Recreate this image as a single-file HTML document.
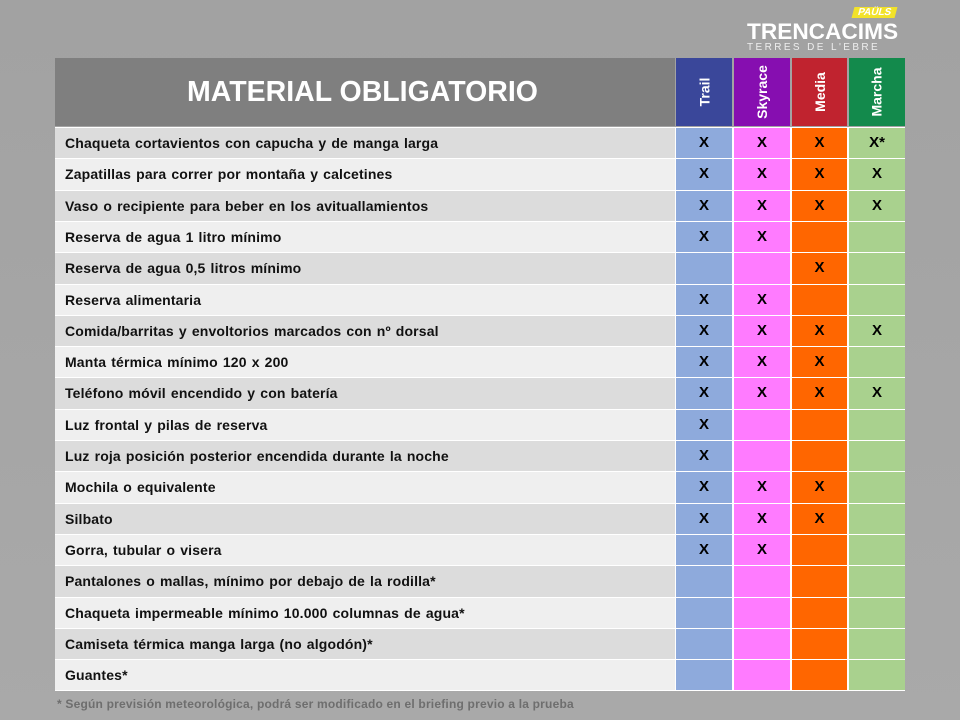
<!DOCTYPE html>
<html><head><meta charset="utf-8"><style>
body{margin:0;width:960px;height:720px;overflow:hidden;background:linear-gradient(#a2a2a2,#a9a9a9);font-family:"Liberation Sans","DejaVu Sans",sans-serif;position:relative}
.c{position:absolute;box-sizing:border-box}
.lab{font-weight:bold;font-size:14px;color:#111;padding-left:10px;line-height:30px;letter-spacing:0.15px;word-spacing:1px}
.x{font-weight:bold;font-size:15px;color:#000;text-align:center;line-height:30px}
.hv{color:#fff;font-weight:bold;font-size:14px;display:flex;align-items:center;justify-content:center}
.hv span{transform:rotate(-90deg);white-space:nowrap}
</style></head><body>
<div class="c" style="left:55px;top:127px;width:850px;height:564px;background:#fff"></div>
<div class="c" style="left:55px;top:58px;width:620px;height:68px;background:#7f7f7f;color:#fff;font-weight:bold;font-size:28.5px;line-height:68px;padding-left:132px">MATERIAL OBLIGATORIO</div>
<div class="c hv" style="left:676px;top:58px;width:56px;height:68px;background:#3a479a"><span>Trail</span></div>
<div class="c hv" style="left:734px;top:58px;width:56px;height:68px;background:#860eb0"><span>Skyrace</span></div>
<div class="c hv" style="left:792px;top:58px;width:55px;height:68px;background:#c0232f"><span>Media</span></div>
<div class="c hv" style="left:849px;top:58px;width:56px;height:68px;background:#138a4c"><span>Marcha</span></div>
<div class="c" style="left:745px;top:6px;width:160px;height:50px">
<div class="c" style="left:108px;top:1px;background:#f2e22a;color:#fff;font-weight:bold;font-size:10px;padding:0 5px;transform:skewX(-15deg)">PAÜLS</div>
<div class="c" style="left:2px;top:13px;color:#fff;font-weight:bold;font-size:22px;transform:scaleX(1.03);transform-origin:left">TRENCACIMS</div>
<div class="c" style="left:2px;top:36px;color:#eee;font-size:10px;letter-spacing:2.4px">TERRES DE L'EBRE</div>
</div>
<div id="t"></div>
<div class="c" style="left:57px;top:697px;color:#6e6e6e;font-weight:bold;font-size:12px;letter-spacing:0.2px">* Según previsión meteorológica, podrá ser modificado en el briefing previo a la prueba</div>
<script>
var rows=[["Chaqueta cortavientos con capucha y de manga larga","X","X","X","X*"],
["Zapatillas  para correr por montaña y calcetines","X","X","X","X"],
["Vaso o recipiente para beber en los avituallamientos","X","X","X","X"],
["Reserva de agua  1 litro mínimo","X","X","",""],
["Reserva de agua  0,5 litros mínimo","","","X",""],
["Reserva alimentaria","X","X","",""],
["Comida/barritas  y envoltorios marcados con nº dorsal","X","X","X","X"],
["Manta térmica mínimo  120 x 200","X","X","X",""],
["Teléfono móvil encendido y con batería","X","X","X","X"],
["Luz frontal y pilas de reserva","X","","",""],
["Luz roja posición posterior encendida durante la noche","X","","",""],
["Mochila o equivalente","X","X","X",""],
["Silbato","X","X","X",""],
["Gorra, tubular o visera","X","X","",""],
["Pantalones o mallas, mínimo por debajo de la rodilla*","","","",""],
["Chaqueta impermeable mínimo  10.000 columnas de agua*","","","",""],
["Camiseta térmica manga larga (no algodón)*","","","",""],
["Guantes*","","","",""]];
var cols=[[676,56,"#8eaadc"],[734,56,"#ff7bff"],[792,55,"#ff6600"],[849,56,"#a9d18e"]];
var h="";
rows.forEach(function(r,i){var y=Math.round(128+i*31.3);var y2=Math.round(128+(i+1)*31.3)-1;var hh=y2-y;
h+='<div class="c lab" style="left:55px;top:'+y+'px;width:620px;height:'+hh+'px;background:'+(i%2?'#efefef':'#dcdcdc')+'">'+r[0]+'</div>';
cols.forEach(function(c,j){h+='<div class="c x" style="left:'+c[0]+'px;top:'+y+'px;width:'+c[1]+'px;height:'+hh+'px;background:'+c[2]+'">'+r[j+1]+'</div>';});});
document.getElementById("t").innerHTML=h;
</script>
</body></html>
